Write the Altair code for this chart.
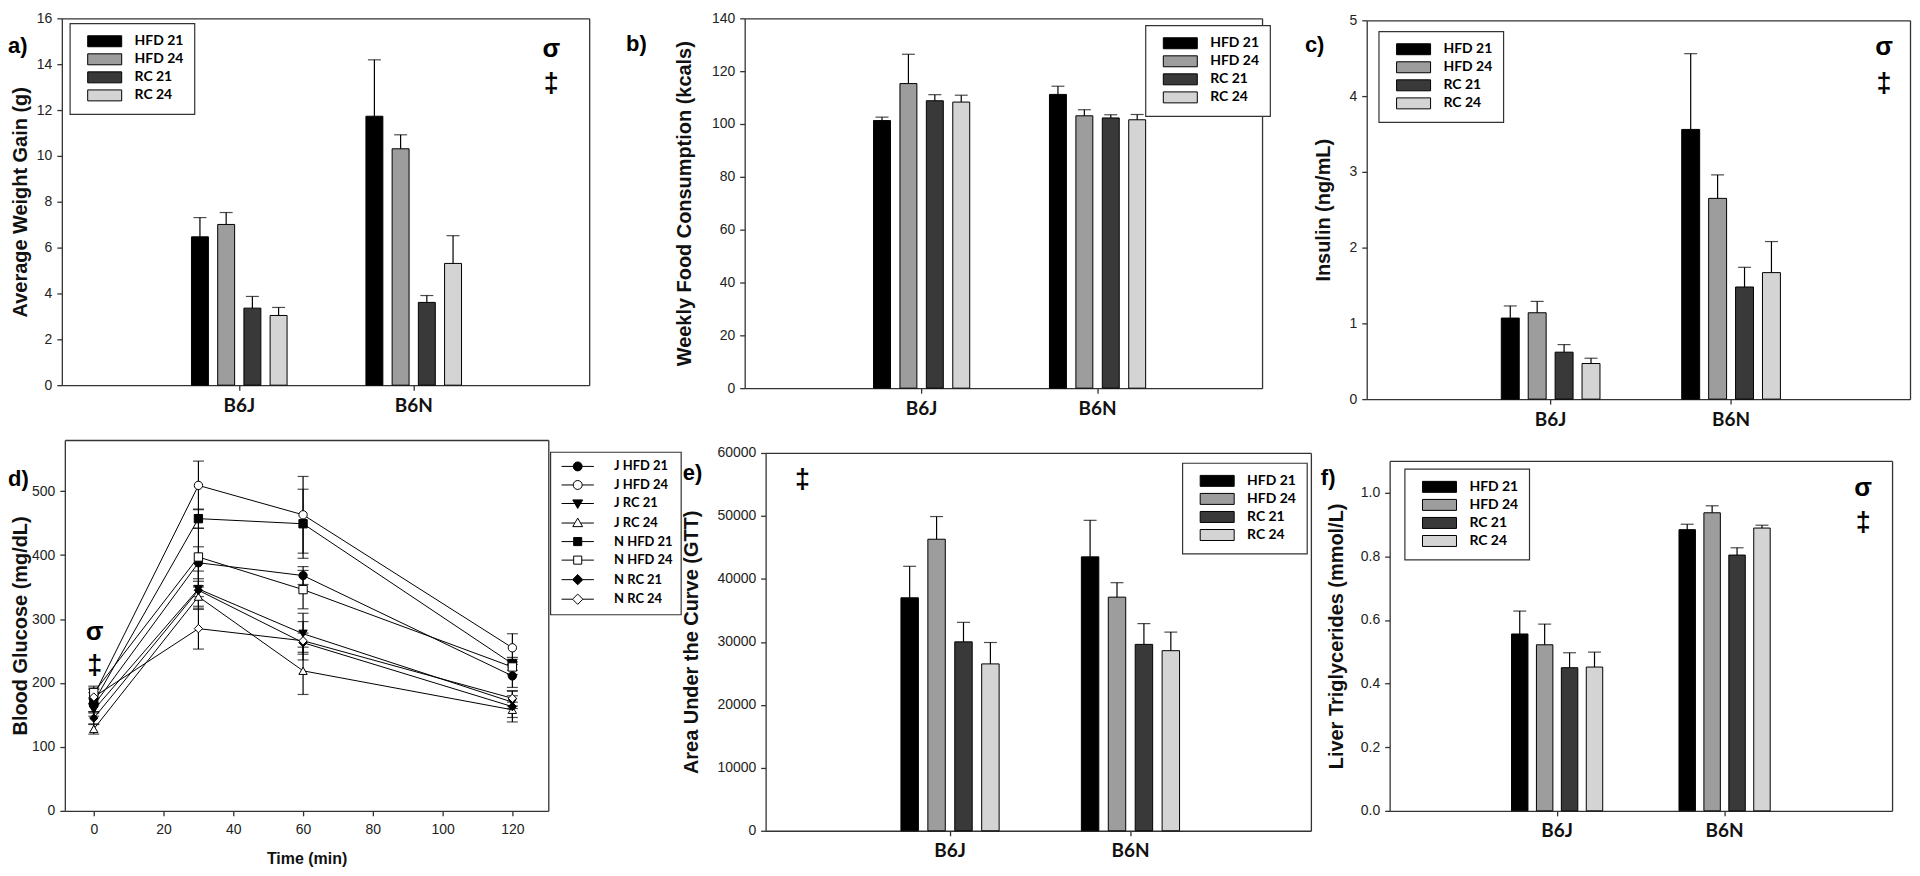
import altair as alt
import pandas as pd

# ---------------- data ----------------
strains = ["B6J", "B6N"]
diets = ["HFD 21", "HFD 24", "RC 21", "RC 24"]

weight_gain_b6j = [6.47, 7.01, 3.36, 3.04]
weight_gain_b6n = [11.73, 10.31, 3.61, 5.31]
weight_gain_err_b6j = [0.84, 0.52, 0.51, 0.35]
weight_gain_err_b6n = [2.46, 0.61, 0.30, 1.21]

food_b6j = [101.3, 115.3, 108.8, 108.3]
food_b6n = [111.2, 103.1, 102.3, 101.6]
food_err_b6j = [1.3, 11.1, 2.3, 2.6]
food_err_b6n = [3.1, 2.3, 1.2, 2.0]

insulin_b6j = [1.07, 1.14, 0.62, 0.47]
insulin_b6n = [3.56, 2.65, 1.48, 1.67]
insulin_err_b6j = [0.16, 0.15, 0.10, 0.07]
insulin_err_b6n = [1.00, 0.31, 0.26, 0.41]

auc_b6j = [37000, 46300, 30000, 26500]
auc_b6n = [43500, 37100, 29600, 28600]
auc_err_b6j = [5000, 3600, 3100, 3400]
auc_err_b6n = [5800, 2300, 3300, 2950]

tg_b6j = [0.556, 0.522, 0.450, 0.452]
tg_b6n = [0.884, 0.937, 0.804, 0.889]
tg_err_b6j = [0.072, 0.065, 0.047, 0.047]
tg_err_b6n = [0.017, 0.022, 0.023, 0.009]

gtt_times = [0, 30, 60, 120]
gtt_series = ["J HFD 21", "J HFD 24", "J RC 21", "J RC 24",
              "N HFD 21", "N HFD 24", "N RC 21", "N RC 24"]
gtt_mean = [
    [165, 388, 368, 211],
    [180, 509, 463, 255],
    [158, 347, 277, 170],
    [128, 335, 219, 158],
    [170, 457, 449, 230],
    [185, 397, 346, 225],
    [145, 345, 263, 163],
    [178, 285, 266, 176],
]
gtt_err = [
    [12, 25, 14, 18],
    [12, 38, 60, 22],
    [10, 12, 32, 10],
    [8, 15, 37, 12],
    [15, 15, 54, 10],
    [10, 45, 30, 12],
    [10, 30, 15, 24],
    [12, 32, 30, 12],
]

weight_ticks = [0, 2, 4, 6, 8, 10, 12, 14, 16]
food_ticks = [0, 20, 40, 60, 80, 100, 120, 140]
insulin_ticks = [0, 1, 2, 3, 4, 5]
glucose_ticks = [0, 100, 200, 300, 400, 500]
time_ticks = [0, 20, 40, 60, 80, 100, 120]
auc_ticks = [0, 10000, 20000, 30000, 40000, 50000, 60000]
tg_ticks = [0.0, 0.2, 0.4, 0.6, 0.8, 1.0]

# ---------------- styles / layout ----------------
bar_colors = ["#000000", "#9d9d9d", "#393939", "#d4d4d4"]
gtt_shapes = ["circle", "circle", "triangle-down", "triangle-up",
              "square", "square", "diamond", "diamond"]
gtt_fills = ["black", "white", "black", "white", "black", "white", "black", "white"]
gtt_strokes = ["black"] * 8
gtt_legend_paths = [
    "M-3.6,0H-1M1,0H3.6M1,0A1,1,0,1,1,-1,0A1,1,0,1,1,1,0Z",
    "M-3.6,0H-1M1,0H3.6M1,0A1,1,0,1,1,-1,0A1,1,0,1,1,1,0Z",
    "M-3.6,0H-0.62M0.62,0H3.6M-1.1,-0.8H1.1L0,1.1Z",
    "M-3.6,0H-0.62M0.62,0H3.6M0,-1.1L1.1,0.8H-1.1Z",
    "M-3.6,0H-0.9M0.9,0H3.6M-0.9,-0.9H0.9V0.9H-0.9Z",
    "M-3.6,0H-0.9M0.9,0H3.6M-0.9,-0.9H0.9V0.9H-0.9Z",
    "M-3.6,0H-1.15M1.15,0H3.6M0,-1.15L1.15,0L0,1.15L-1.15,0Z",
    "M-3.6,0H-1.15M1.15,0H3.6M0,-1.15L1.15,0L0,1.15L-1.15,0Z",
]
RECT_PATH = "M-3.1,-1H3.1V1H-3.1Z"

TICK_FONT = "Liberation Sans"
TITLE_FONT = "Liberation Sans"
LEG_FONT = "Lato"
CAT_FONT = "Lato"

W_CH, H_CH = 1910, 866
OX, OY = 8, 8


def px(x):
    return x - OX


def py(y):
    return y - OY


def bar_legend(lx, ly):
    return alt.Legend(
        orient="none", legendX=px(lx), legendY=py(ly), title=None,
        symbolType=RECT_PATH, symbolSize=121, symbolStrokeColor="black",
        symbolStrokeWidth=1, labelFont=LEG_FONT, labelFontSize=14, labelAlign="left",
        labelFontWeight="bold", labelColor="black", padding=11, rowPadding=2.1,
        symbolOffset=17, labelOffset=23, strokeColor="#333", fillColor="white",
        cornerRadius=0)


def make_bar_panel(vj, vn, ej, en, box, centers, barstep, barw, ymax, yticks,
                   yfmt, ytitle, title_cx, legend_xy):
    L, R, T, B = box
    rows = []
    for strain, vals, errs in ((strains[0], vj, ej), (strains[1], vn, en)):
        for diet, v, e in zip(diets, vals, errs):
            rows.append({"strain": strain, "diet": diet, "value": v, "upper": v + e})
    df = pd.DataFrame(rows)
    c1, c2 = centers
    step = c2 - c1
    group_w = 4 * barstep
    p_in = 1 - group_w / step
    p_out = ((R - L) / step - 2 + p_in) / 2
    align = (c1 - group_w / 2 - L) / (2 * p_out * step)
    xscale = alt.Scale(domain=strains, range=[px(L), px(R)], paddingInner=p_in,
                       paddingOuter=p_out, align=align)
    gap = 1 - barw / barstep
    oscale = alt.Scale(domain=diets, paddingInner=gap, paddingOuter=gap / 2)
    yscale = alt.Scale(domain=[0, ymax], range=[py(B), py(T)], nice=False)
    cscale = alt.Scale(domain=diets, range=bar_colors)
    x_bottom = alt.Axis(orient="bottom", offset=py(B) - H_CH, title=None, labelAngle=0,
                        labelFont=CAT_FONT, labelFontSize=19, labelFontWeight="bold",
                        labelColor="#111", labelPadding=6, bandPosition=0.5)
    y_left = alt.Axis(orient="left", offset=-px(L), title=ytitle, titleX=title_cx - L,
                      titleBaseline="middle", titleAlign="center", titleAngle=270,
                      values=yticks, format=yfmt)
    x_top = alt.Axis(orient="top", offset=-py(T), title=None, labels=False, ticks=False)
    y_right = alt.Axis(orient="right", offset=px(R) - W_CH, title=None, labels=False,
                       ticks=False)
    base = alt.Chart(df)
    xo = alt.XOffset("diet:N", scale=oscale)
    bars = base.mark_bar(stroke="black", strokeWidth=1).encode(
        x=alt.X("strain:N", scale=xscale, axis=x_bottom),
        xOffset=xo,
        y=alt.Y("value:Q", scale=yscale, axis=y_left),
        color=alt.Color("diet:N", scale=cscale, legend=bar_legend(*legend_xy)),
    )
    whiskers = base.mark_rule(color="black", strokeWidth=1.2).encode(
        x=alt.X("strain:N", scale=xscale, axis=x_top),
        xOffset=xo,
        y=alt.Y("value:Q", scale=yscale, axis=y_right),
        y2="upper:Q",
    )
    caps = base.mark_tick(color="black", thickness=1.2, size=13, orient="horizontal").encode(
        x=alt.X("strain:N", scale=xscale, axis=None),
        xOffset=xo,
        y=alt.Y("upper:Q", scale=yscale, axis=None),
    )
    return alt.layer(bars, whiskers, caps).resolve_axis(x="independent", y="independent")


panel_a = make_bar_panel(weight_gain_b6j, weight_gain_b6n, weight_gain_err_b6j,
                         weight_gain_err_b6n, (62, 591, 17, 385), (240, 415), 26.3, 17,
                         16, weight_ticks, "d", "Average Weight Gain (g)", 21, (70, 22))
panel_b = make_bar_panel(food_b6j, food_b6n, food_err_b6j, food_err_b6n,
                         (747, 1266, 17, 388), (924.5, 1101), 26.5, 17, 140, food_ticks,
                         "d", "Weekly Food Consumption (kcals)", 687, (1149, 24))
panel_c = make_bar_panel(insulin_b6j, insulin_b6n, insulin_err_b6j, insulin_err_b6n,
                         (1371, 1916, 19, 399), (1555.5, 1736.5), 27, 18, 5, insulin_ticks,
                         "d", "Insulin (ng/mL)", 1328, (1383, 30))
panel_e = make_bar_panel(auc_b6j, auc_b6n, auc_err_b6j, auc_err_b6n,
                         (768, 1315, 453, 832), (953, 1134), 27, 17.5, 60000, auc_ticks,
                         "d", "Area Under the Curve (GTT)", 694, (1186, 463))
panel_f = make_bar_panel(tg_b6j, tg_b6n, tg_err_b6j, tg_err_b6n,
                         (1394, 1898, 461, 812), (1562, 1730), 25, 16.5, 1.1, tg_ticks,
                         ".1f", "Liver Triglycerides (mmol/L)", 1341, (1409, 469))

# ---------------- panel d: GTT lines ----------------
gtt_rows = []
for name, means, errs in zip(gtt_series, gtt_mean, gtt_err):
    for t, m, e in zip(gtt_times, means, errs):
        gtt_rows.append({"series": name, "time": t, "mean": m, "lo": m - e, "hi": m + e})
gtt_df = pd.DataFrame(gtt_rows)

dL, dR, dT, dB = 65, 550, 440, 812
dx = alt.Scale(domain=[-8.3, 130.3], range=[px(dL), px(dR)], nice=False, zero=False)
dy = alt.Scale(domain=[0, 580], range=[py(dB), py(dT)], nice=False)
d_x_axis = alt.Axis(orient="bottom", offset=py(dB) - H_CH, values=time_ticks,
                    labelFlush=False, title="Time (min)", titleFontSize=16,
                    titleY=48, titleBaseline="middle", labelPadding=7)
d_y_axis = alt.Axis(orient="left", offset=-px(dL), values=glucose_ticks,
                    title="Blood Glucose (mg/dL)", titleX=21 - dL, titleBaseline="middle",
                    titleAlign="center", titleAngle=270)
d_x_top = alt.Axis(orient="top", offset=-py(dT), title=None, labels=False, ticks=False)
d_y_right = alt.Axis(orient="right", offset=px(dR) - W_CH, title=None, labels=False,
                     ticks=False)

gbase = alt.Chart(gtt_df)
d_lines = gbase.mark_line(color="black", strokeWidth=1).encode(
    x=alt.X("time:Q", scale=dx, axis=d_x_axis),
    y=alt.Y("mean:Q", scale=dy, axis=d_y_axis),
    detail="series:N",
)
d_err = gbase.mark_rule(color="black", strokeWidth=1.2).encode(
    x=alt.X("time:Q", scale=dx, axis=d_x_top),
    y=alt.Y("lo:Q", scale=dy, axis=d_y_right),
    y2="hi:Q",
)
d_cap_lo = gbase.mark_tick(color="black", thickness=1.2, size=11, orient="horizontal").encode(
    x=alt.X("time:Q", scale=dx, axis=None),
    y=alt.Y("lo:Q", scale=dy, axis=None),
)
d_cap_hi = gbase.mark_tick(color="black", thickness=1.2, size=11, orient="horizontal").encode(
    x=alt.X("time:Q", scale=dx, axis=None),
    y=alt.Y("hi:Q", scale=dy, axis=None),
)
d_point_layers = []
for name, shp, fil in zip(gtt_series, gtt_shapes, gtt_fills):
    d_point_layers.append(
        gbase.transform_filter(alt.datum.series == name).mark_point(
            shape=shp, filled=True, fill=fil, stroke="black", strokeWidth=1, size=70,
            opacity=1).encode(
            x=alt.X("time:Q", scale=dx, axis=None),
            y=alt.Y("mean:Q", scale=dy, axis=None),
        )
    )
d_leg = alt.Legend(orient="none", legendX=px(552), legendY=py(452), title=None,
                   symbolSize=81, symbolStrokeWidth=1, symbolOpacity=1,
                   labelFont=LEG_FONT, labelFontSize=13, labelAlign="left",
                   labelFontWeight="bold", labelColor="black", padding=8, rowPadding=4.6,
                   symbolOffset=13, labelOffset=30, strokeColor="#333", fillColor="white",
                   cornerRadius=0)
# legend-only layer: its marks are placed outside the drawing area
d_legend_layer = alt.Chart(pd.DataFrame({"series": gtt_series})).mark_point(
    strokeWidth=1, opacity=1).encode(
    x=alt.value(-200), y=alt.value(-200),
    shape=alt.Shape("series:N", scale=alt.Scale(domain=gtt_series, range=gtt_legend_paths),
                    legend=d_leg),
    fill=alt.Fill("series:N", scale=alt.Scale(domain=gtt_series, range=gtt_fills),
                  legend=d_leg),
    stroke=alt.Stroke("series:N", scale=alt.Scale(domain=gtt_series, range=gtt_strokes),
                      legend=d_leg),
)
panel_d = alt.layer(d_lines, d_err, d_cap_lo, d_cap_hi, *d_point_layers,
                    d_legend_layer).resolve_axis(x="independent", y="independent")


# ---------------- annotations ----------------
def note(text, x, y, size, align="left"):
    return alt.Chart(pd.DataFrame({"t": [text]})).mark_text(
        font=TITLE_FONT, fontSize=size, fontWeight="bold", align=align,
        baseline="middle", color="black").encode(
        x=alt.value(px(x)), y=alt.value(py(y)), text="t:N")


notes = [
    note("a)", 8, 45, 22), note("b)", 628, 43, 22), note("c)", 1309, 44, 22),
    note("d)", 8, 479, 22), note("e)", 685, 473, 22), note("f)", 1325, 478, 22),
    note("σ", 553, 48, 26, "center"), note("‡", 553, 83, 27, "center"),
    note("σ", 1890, 46, 26, "center"), note("‡", 1890, 83, 27, "center"),
    note("σ", 95, 633, 26, "center"), note("‡", 95, 667, 27, "center"),
    note("‡", 805, 480, 27, "center"),
    note("σ", 1869, 488, 26, "center"), note("‡", 1869, 523, 27, "center"),
]

chart = alt.layer(panel_a, panel_b, panel_c, panel_d, panel_e, panel_f, *notes).resolve_scale(
    x="independent", y="independent", xOffset="independent", color="independent",
    shape="independent", fill="independent", stroke="independent"
).resolve_axis(x="independent", y="independent").resolve_legend(
    color="independent", shape="independent", fill="independent", stroke="independent"
).properties(
    width=W_CH, height=H_CH, padding=0, autosize=alt.AutoSizeParams(type="none"),
    background="white"
).configure_view(strokeWidth=0).configure_axis(
    domainColor="#333", domainWidth=1.3, tickColor="#333", tickWidth=1.3, tickSize=5,
    labelFont=TICK_FONT, labelFontSize=14, labelColor="#222", labelPadding=5, grid=False,
    titleFont=TITLE_FONT, titleFontSize=20, titleFontWeight="bold", titleColor="#111"
).configure_legend(strokeWidth=1.2)

chart.save("out.html", embed_options={"renderer": "svg", "actions": False})
